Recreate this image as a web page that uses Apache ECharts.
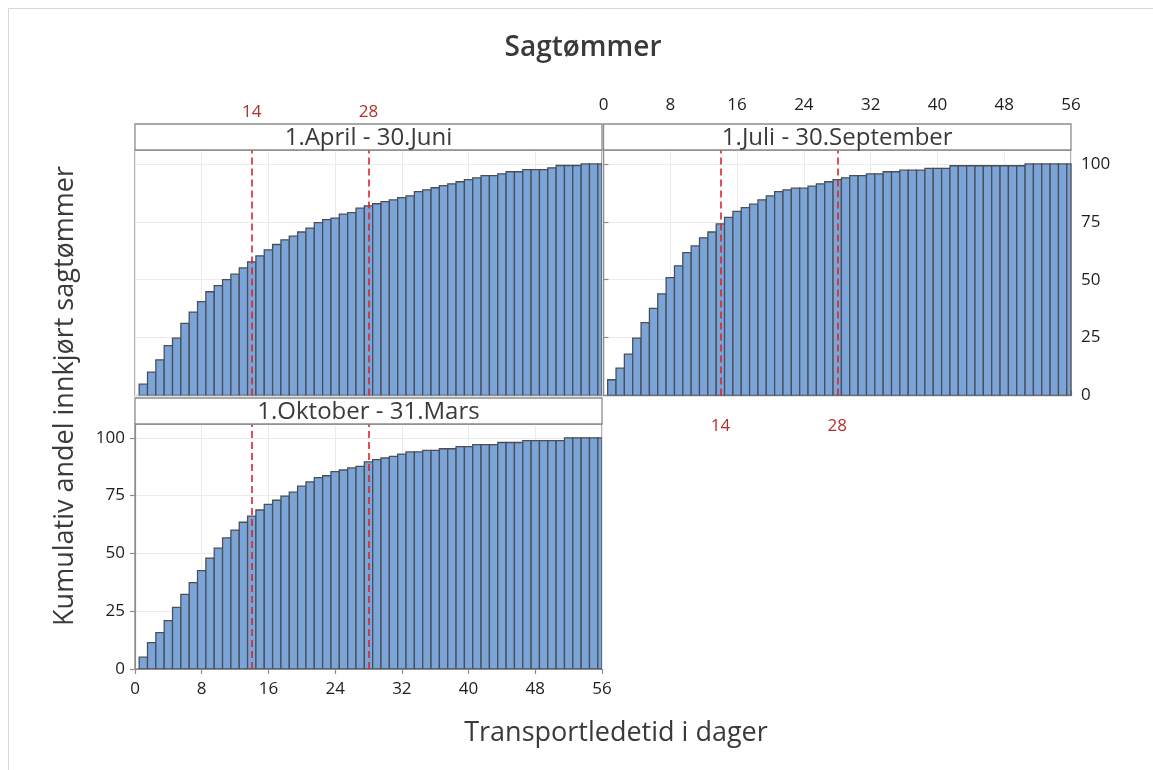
<!DOCTYPE html>
<html>
<head>
<meta charset="utf-8">
<script src="https://cdn.jsdelivr.net/npm/echarts@6/dist/echarts.min.js"></script>
<style>
html,body{margin:0;padding:0;background:#fff;}
#chart{width:1153px;height:770px;}
</style>
</head>
<body>
<div id="chart"></div>
<script>
const chartTitle = 'Sagtømmer';
const xTitle = 'Transportledetid i dager';
const yTitle = 'Kumulativ andel innkjørt sagtømmer';
const panelNames = ['1.April - 30.Juni', '1.Juli - 30.September', '1.Oktober - 31.Mars'];
const days = [1,2,3,4,5,6,7,8,9,10,11,12,13,14,15,16,17,18,19,20,21,22,23,24,25,26,27,28,
              29,30,31,32,33,34,35,36,37,38,39,40,41,42,43,44,45,46,47,48,49,50,51,52,53,54,55,56];
const aprJun = [4.9,10.1,15.4,21.5,24.8,31.1,36.0,40.5,44.8,47.4,
                50.0,52.4,55.1,57.7,60.3,62.9,65.2,67.2,68.8,70.6,
                72.3,74.6,75.9,76.6,78.3,79.0,80.9,81.9,82.8,83.7,
                84.5,85.4,86.2,88.0,88.8,89.7,90.6,91.4,92.3,93.2,
                94.0,94.9,94.9,95.7,96.6,96.6,97.5,97.5,97.5,98.3,
                99.3,99.3,99.3,100,100,100];
const julSep = [6.8,11.8,17.9,24.8,31.5,37.6,43.9,50.9,56.0,61.7,
                64.6,68.1,70.6,74.1,76.9,79.5,81.1,82.6,84.5,86.2,
                88.0,88.8,89.5,89.5,90.4,91.4,92.3,93.2,94.0,94.9,
                94.9,95.7,95.7,96.6,96.6,97.3,97.3,97.3,98.1,98.1,
                98.1,99.2,99.2,99.2,99.2,99.2,99.2,99.2,99.2,99.2,
                100,100,100,100,100,100];
const oktMar = [5.1,11.4,15.7,20.9,26.7,32.3,37.4,42.6,48.0,52.3,
                56.7,60.1,63.5,66.1,68.8,71.2,73.0,74.8,76.5,79.1,
                81.0,82.8,83.6,85.4,86.1,87.0,87.7,89.6,90.6,91.3,
                92.0,93.0,93.9,93.9,94.6,94.6,95.3,95.3,96.2,96.2,
                97.1,97.1,97.1,98.0,98.0,98.0,98.8,98.8,98.8,98.8,
                98.8,100,100,100,100,100];
const xTicks = [0,8,16,24,32,40,48,56];
const yTicks = [0,25,50,75,100];
const refDays = [14, 28];

const FONT = '"Open Sans", "Noto Sans", sans-serif';
const TXT = '#3a3a3a';
const FRAME = '#8c8c8c';
const RED = '#b5302c';

const grids = [
  {left: 135, top: 150, width: 467, height: 245.5},
  {left: 603.5, top: 150, width: 467.5, height: 245.5},
  {left: 135, top: 424, width: 467, height: 245}
];
const STRIP = 26;

const chart = echarts.init(document.getElementById('chart'), null, {renderer: 'canvas'});

function xAxisMain(gi, showLabels, pos, offset, margin) {
  return {
    type: 'value', gridIndex: gi, min: 0, max: 56, interval: 8, position: pos, offset: offset || 0,
    axisLine: {show: showLabels, lineStyle: {color: FRAME, width: 1.2}},
    axisTick: {show: showLabels, length: 5, lineStyle: {color: FRAME, width: 1.2}, customValues: xTicks},
    axisLabel: {show: showLabels, color: '#1e1e1e', fontSize: 17, fontFamily: FONT, margin: margin || 8,
                customValues: xTicks},
    splitLine: {show: true, lineStyle: {color: '#ebebeb', width: 1}}
  };
}
function yAxisMain(gi, showLabels, pos) {
  return {
    type: 'value', gridIndex: gi, min: 0, max: 106, interval: 25, position: pos,
    axisLine: {show: showLabels, lineStyle: {color: FRAME, width: 1.2}},
    axisTick: {show: showLabels, length: 5, lineStyle: {color: FRAME, width: 1.2}, customValues: yTicks},
    axisLabel: {show: showLabels, color: '#1e1e1e', fontSize: 17, fontFamily: FONT, margin: 10,
                customValues: yTicks},
    splitLine: {show: true, lineStyle: {color: '#ebebeb', width: 1}}
  };
}
function redAxis(gi, pos, offset, margin) {
  return {
    type: 'value', gridIndex: gi, min: 0, max: 56, interval: 14, position: pos, offset: offset,
    axisLine: {show: false}, axisTick: {show: false}, splitLine: {show: false},
    axisLabel: {show: true, color: RED, fontSize: 17, fontFamily: FONT, margin: margin,
                formatter: v => refDays.indexOf(v) >= 0 ? String(v) : ''}
  };
}

const xAxes = [
  xAxisMain(0, false, 'bottom'),
  xAxisMain(1, true, 'top', STRIP, 10),
  xAxisMain(2, true, 'bottom', 0, 12),
  redAxis(0, 'top', STRIP, 3),
  redAxis(1, 'bottom', 0, 22)
];
const yAxes = [
  yAxisMain(0, false, 'left'),
  yAxisMain(1, true, 'right'),
  yAxisMain(2, true, 'left')
];

function barSeries(gi, values) {
  return {
    type: 'custom', xAxisIndex: gi, yAxisIndex: gi, z: 3, clip: true,
    data: days.map((d, i) => [d, values[i]]),
    renderItem: function (params, api) {
      const x = api.value(0), y = api.value(1);
      const p0 = api.coord([x - 0.5, y]);
      const p1 = api.coord([x + 0.5, 0]);
      const rect = {x: p0[0], y: p0[1], width: p1[0] - p0[0], height: p1[1] - p0[1]};
      const cs = params.coordSys;
      const c = echarts.graphic.clipRectByRect(rect, {x: cs.x, y: cs.y, width: cs.width, height: cs.height});
      if (!c) return null;
      return {type: 'rect', shape: c, style: {fill: '#7ba4d9', stroke: '#4b4f55', lineWidth: 1.3}};
    }
  };
}
function refSeries(gi) {
  return {
    type: 'line', xAxisIndex: gi, yAxisIndex: gi, z: 2, data: [],
    markLine: {
      silent: true, symbol: 'none', label: {show: false},
      lineStyle: {color: '#dc2329', type: [7, 4], width: 1.6},
      data: refDays.map(d => ({xAxis: d}))
    }
  };
}

const graphics = [
  {type: 'rect', shape: {x: 8.5, y: 8.5, width: 1160, height: 780}, style: {fill: 'none', stroke: '#d8d8d8', lineWidth: 1}, silent: true},
  {type: 'text', x: 583, y: 48, style: {text: chartTitle, font: '600 28px ' + FONT, fill: TXT, align: 'center', verticalAlign: 'middle'}},
  {type: 'text', x: 616, y: 733, style: {text: xTitle, font: '500 27px ' + FONT, fill: TXT, align: 'center', verticalAlign: 'middle'}},
  {type: 'text', x: 65, y: 396, rotation: Math.PI / 2, style: {text: yTitle, font: '500 27px ' + FONT, fill: TXT, align: 'center', verticalAlign: 'middle'}}
];
grids.forEach((g, i) => {
  graphics.push({type: 'rect', z: 10, shape: {x: g.left, y: g.top - STRIP, width: g.width, height: STRIP},
    style: {fill: '#fff', stroke: FRAME, lineWidth: 1.3}});
  graphics.push({type: 'text', z: 11, x: g.left + g.width / 2, y: g.top - STRIP / 2 + 1,
    style: {text: panelNames[i], font: '24px ' + FONT, fill: TXT, align: 'center', verticalAlign: 'middle'}});
});

chart.setOption({
  backgroundColor: '#fff',
  animation: false,
  grid: grids.map(g => Object.assign({show: true, borderColor: FRAME, borderWidth: 1.3, backgroundColor: 'transparent'}, g)),
  xAxis: xAxes,
  yAxis: yAxes,
  series: [
    refSeries(0), refSeries(1), refSeries(2),
    barSeries(0, aprJun), barSeries(1, julSep), barSeries(2, oktMar)
  ],
  graphic: graphics
});
</script>
</body>
</html>
